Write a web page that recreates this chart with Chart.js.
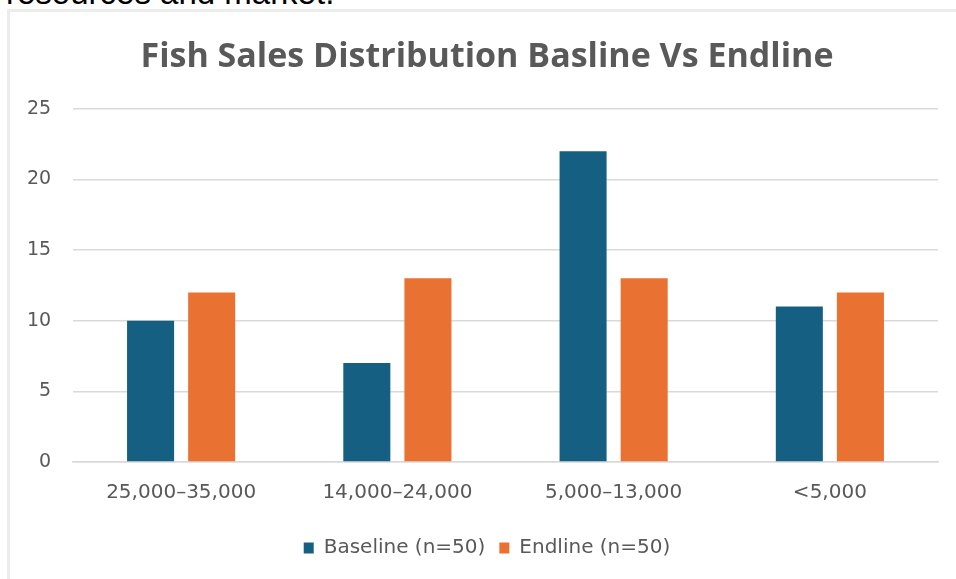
<!DOCTYPE html>
<html>
<head>
<meta charset="utf-8">
<script src="https://cdn.jsdelivr.net/npm/chart.js@4/dist/chart.umd.min.js"></script>
<style>
  html, body { margin: 0; padding: 0; background: #ffffff; overflow: hidden; }
  body { width: 956px; height: 579px; position: relative; }
  #above { position: absolute; left: 6px; top: -24px; font-family: "Liberation Sans", Arial, sans-serif; font-size: 33px; line-height: 33px; color: #000; white-space: nowrap; }
  #frame { position: absolute; left: 7px; top: 9px; width: 960px; height: 580px; border-left: 3px solid #ececec; border-top: 3px solid #ececec; box-sizing: border-box; }
  #wrap { position: absolute; left: 0; top: 0; width: 956px; height: 579px; }
</style>
</head>
<body>
<div id="above">resources and market.</div>
<div id="frame"></div>
<div id="wrap"><canvas id="c"></canvas></div>
<script>
const categories = ["25,000–35,000", "14,000–24,000", "5,000–13,000", "<5,000"];
const baseline = [10, 7, 22, 11];
const endline = [12, 13, 13, 12];
const seriesNames = ["Baseline (n=50)", "Endline (n=50)"];
const chartTitle = "Fish Sales Distribution Basline Vs Endline";

new Chart(document.getElementById('c'), {
  type: 'bar',
  data: {
    labels: categories,
    datasets: [
      { label: seriesNames[0], data: baseline, backgroundColor: '#156082', categoryPercentage: 0.565, barPercentage: 0.77 },
      { label: seriesNames[1], data: endline, backgroundColor: '#E97132', categoryPercentage: 0.565, barPercentage: 0.77 }
    ]
  },
  options: {
    responsive: true,
    maintainAspectRatio: false,
    animation: false,
    layout: { padding: { left: 36, right: 18, top: 12, bottom: 11 } },
    plugins: {
      title: {
        display: true,
        text: chartTitle,
        color: '#595959',
        font: { family: 'Open Sans', size: 34, weight: 'bold' },
        padding: { top: 25, bottom: 31 }
      },
      legend: {
        position: 'bottom',
        labels: {
          color: '#595959',
          font: { family: 'DejaVu Sans', size: 20 },
          boxWidth: 10,
          boxHeight: 11,
          padding: 14
        }
      },
      tooltip: { enabled: false }
    },
    scales: {
      x: {
        grid: { display: false, drawTicks: false },
        border: { display: true, color: '#d9d9d9', width: 1.5 },
        ticks: { color: '#595959', font: { family: 'DejaVu Sans', size: 20 }, padding: 19 }
      },
      y: {
        min: 0, max: 25,
        afterFit: (s) => { s.width = 37; },
        grid: { color: '#d9d9d9', lineWidth: 1.5, drawTicks: false },
        border: { display: false },
        ticks: { stepSize: 5, color: '#595959', font: { family: 'DejaVu Sans', size: 19 }, mirror: true, crossAlign: 'far', padding: -46 }
      }
    }
  }
});
</script>
</body>
</html>
